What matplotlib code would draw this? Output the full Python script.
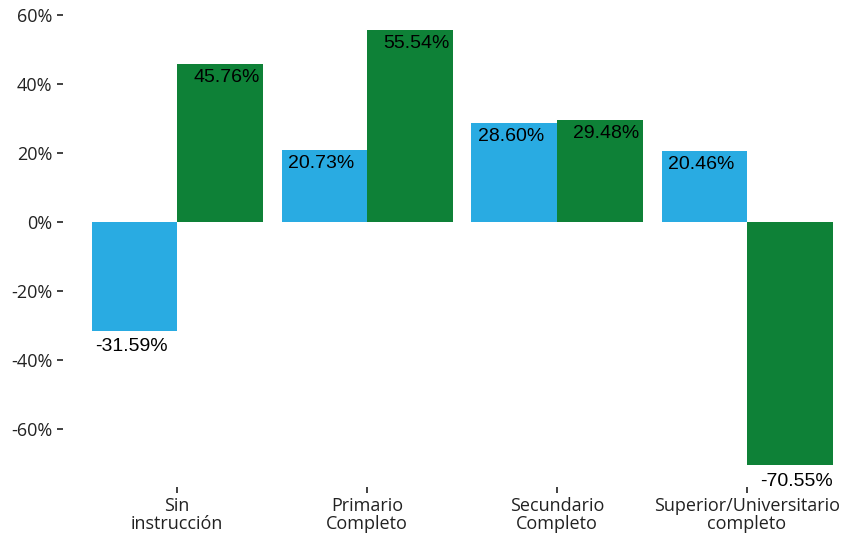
import matplotlib
matplotlib.use("Agg")
import matplotlib.pyplot as plt
import numpy as np

categories = ["Sin\ninstrucción", "Primario\nCompleto", "Secundario\nCompleto", "Superior/Universitario\ncompleto"]
serie_a = [-31.59, 20.73, 28.60, 20.46]
serie_b = [45.76, 55.54, 29.48, -70.55]
yticks = [-60, -40, -20, 0, 20, 40, 60]

color_a = "#29ABE2"
color_b = "#0E8137"

fig = plt.figure(figsize=(8.5, 5.39), dpi=100)
left_px, right_px = 63, 850
top_px, bottom_px = 8.7, 487
W, H = 850, 539
ax = fig.add_axes([left_px / W, 1 - bottom_px / H, (right_px - left_px) / W, (bottom_px - top_px) / H])

x = np.arange(len(categories))
w = 0.45
ax.bar(x - w / 2, serie_a, width=w, color=color_a)
ax.bar(x + w / 2, serie_b, width=w, color=color_b)

def label(xpos, v):
    off = -9.4 if v >= 0 else -11.5
    ax.annotate(f"{v:.2f}%", (xpos, v), xytext=(0, off), textcoords="offset points",
                ha="center", va="center", fontsize=14, family="Liberation Sans", color="black")

for i, v in enumerate(serie_a):
    label(x[i] - w / 2 - 0.015, v)
for i, v in enumerate(serie_b):
    label(x[i] + w / 2 + 0.035, v)

ax.set_xlim(-0.6, (right_px - 177) / 190)
ax.set_ylim(-76.85, 61.84)
ax.set_yticks(yticks)
ax.set_yticklabels([f"{t}%" for t in yticks], family="Open Sans", fontsize=13, color="#222222")
ax.set_xticks(x)
ax.set_xticklabels(categories, family="Open Sans", fontsize=13, color="#222222", linespacing=0.95)
for s in ax.spines.values():
    s.set_visible(False)
ax.tick_params(axis="both", length=4, width=1.3, color="#333333", pad=3.5)
ax.tick_params(axis="y", direction="out")

fig.savefig("out.png", dpi=100)
